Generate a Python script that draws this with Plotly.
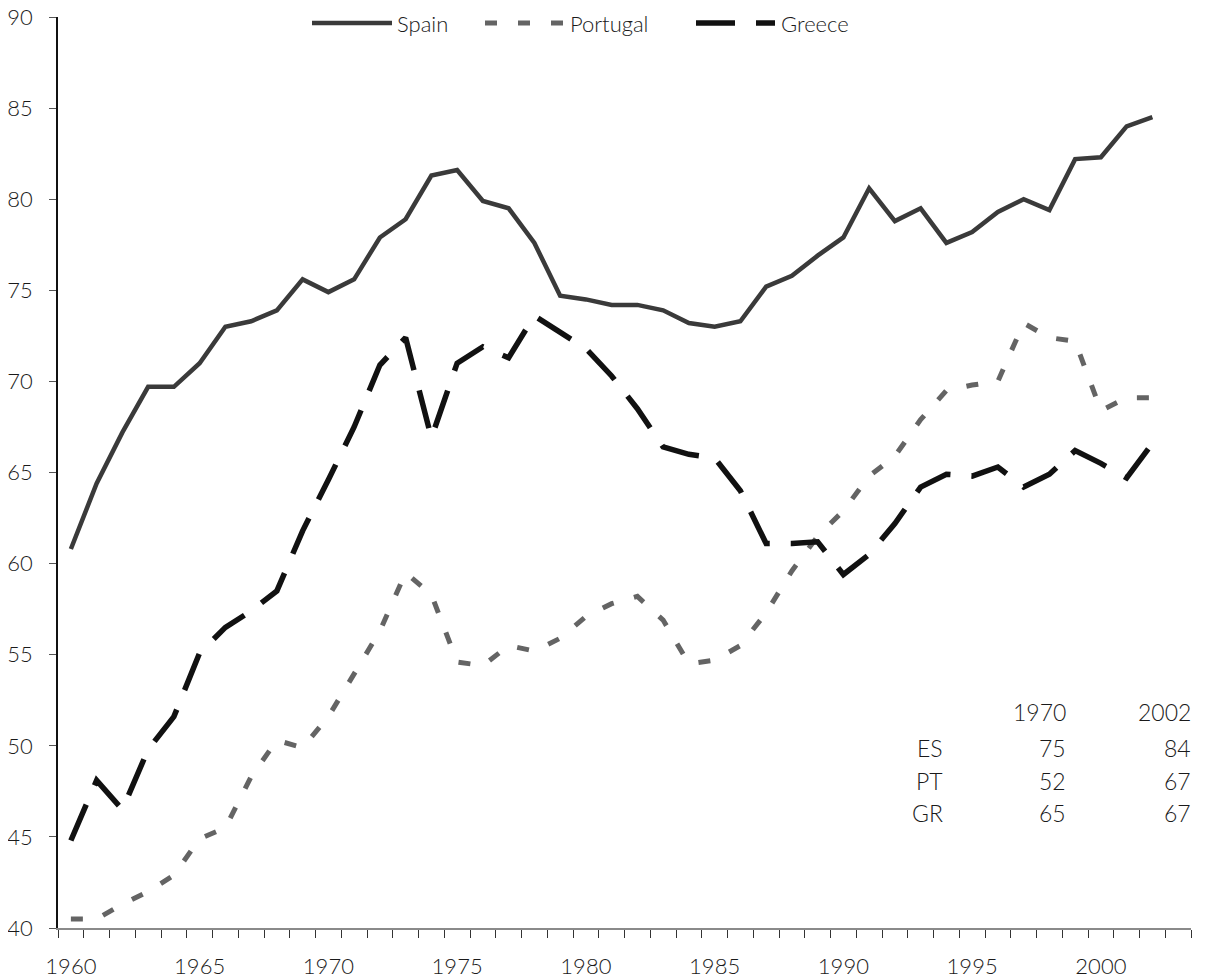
import plotly.graph_objects as go

years = list(range(1960, 2003))

spain = [60.8, 64.4, 67.2, 69.7, 69.7, 71.0, 73.0, 73.3, 73.9, 75.6,
         74.9, 75.6, 77.9, 78.9, 81.3, 81.6, 79.9, 79.5, 77.6, 74.7,
         74.5, 74.2, 74.2, 73.9, 73.2, 73.0, 73.3, 75.2, 75.8, 76.9,
         77.9, 80.6, 78.8, 79.5, 77.6, 78.2, 79.3, 80.0, 79.4, 82.2,
         82.3, 84.0, 84.5]

portugal = [40.5, 40.5, 41.3, 42.0, 42.9, 44.9, 45.5, 48.3, 50.3, 49.9,
            51.6, 53.9, 56.3, 59.5, 58.3, 54.6, 54.4, 55.5, 55.2, 55.9,
            57.1, 57.8, 58.2, 56.9, 54.5, 54.7, 55.5, 57.3, 59.6, 61.5,
            62.9, 64.8, 65.9, 67.9, 69.5, 69.8, 70.0, 73.2, 72.4, 72.2,
            68.4, 69.1, 69.1]

greece = [44.8, 48.1, 46.5, 49.8, 51.6, 55.1, 56.5, 57.4, 58.5, 61.8,
          64.6, 67.5, 70.9, 72.4, 66.9, 71.0, 71.9, 71.3, 73.6, 72.7,
          71.8, 70.3, 68.5, 66.4, 66.0, 65.8, 64.0, 61.1, 61.1, 61.2,
          59.4, 60.5, 62.2, 64.2, 64.9, 64.8, 65.3, 64.2, 64.9, 66.2,
          65.5, 64.7, 66.6]

table_cols = ["1970", "2002"]
table_rows = ["ES", "PT", "GR"]
table_vals = [[75, 84], [52, 67], [65, 67]]

FONT = "Lato, 'Open Sans', sans-serif"
# page body has an 8px margin, so the figure is sized to fit inside it
OFF = 8
W, H = 1197, 972
L, R, T, B = 50, 14, 9, 52


def px_x(p):
    # page pixel -> paper coordinate
    return (p - OFF - L) / (W - L - R)


def px_y(p):
    return (H - B - (p - OFF)) / (H - T - B)


series = [
    ("Spain", spain, "#3a3a3a", 4.5, "solid"),
    ("Portugal", portugal, "#646464", 5, "12px,21px"),
    ("Greece", greece, "#111111", 5.5, "39px,21px"),
]

fig = go.Figure()
for name, vals, color, width, dash in series:
    fig.add_trace(go.Scatter(
        x=years, y=vals, name=name, mode="lines",
        line=dict(color=color, width=width, dash=dash),
        showlegend=False,
    ))

# legend drawn by hand: sample line + label
legend_pos = [(312, 392, 395), (485, 563, 568), (696, 775, 779)]
for (name, vals, color, width, dash), (x0, x1, xt) in zip(series, legend_pos):
    fig.add_shape(type="line", xref="paper", yref="paper",
                  x0=px_x(x0), x1=px_x(x1), y0=px_y(23), y1=px_y(23),
                  line=dict(color=color, width=width, dash=dash))
    fig.add_annotation(text=name, xref="paper", yref="paper",
                       x=px_x(xt), y=px_y(23), xanchor="left", yanchor="middle",
                       showarrow=False, font=dict(size=22, color="#1a1a1a"))

# small table in the lower right
col_right = [1068, 1193]
row_y = [748, 781, 813]
for j, c in enumerate(table_cols):
    fig.add_annotation(text=c, xref="paper", yref="paper",
                       x=px_x(col_right[j]), y=px_y(712), xanchor="right",
                       yanchor="middle", showarrow=False,
                       font=dict(size=23, color="#1a1a1a"))
for i, r in enumerate(table_rows):
    fig.add_annotation(text=r, xref="paper", yref="paper",
                       x=px_x(945), y=px_y(row_y[i]), xanchor="right",
                       yanchor="middle", showarrow=False,
                       font=dict(size=23, color="#1a1a1a"))
    for j, v in enumerate(table_vals[i]):
        fig.add_annotation(text=str(v), xref="paper", yref="paper",
                           x=px_x(col_right[j]), y=px_y(row_y[i]), xanchor="right",
                           yanchor="middle", showarrow=False,
                           font=dict(size=23, color="#1a1a1a"))

fig.update_layout(
    width=W, height=H,
    margin=dict(l=L, r=R, t=T, b=B, autoexpand=False),
    paper_bgcolor="white", plot_bgcolor="white",
    font=dict(family=FONT, size=22, color="#1a1a1a", weight=300),
    xaxis=dict(
        range=[1959.5, 2003.5], tickmode="linear", tick0=1960, dtick=5,
        ticks="", showgrid=False, zeroline=False, automargin=False,
        showline=True, linecolor="#8a8a8a", linewidth=1.5,
        ticklabelstandoff=18, ticklabeloverflow="allow",
        minor=dict(ticks="outside", tick0=1959.5, dtick=1, ticklen=8,
                   tickcolor="#333", tickwidth=1, showgrid=False),
    ),
    yaxis=dict(
        range=[40, 90], tickmode="linear", tick0=40, dtick=5,
        ticks="outside", ticklen=7, tickcolor="#555", tickwidth=1,
        showgrid=False, zeroline=False, automargin=False,
        showline=True, linecolor="#111", linewidth=1.5,
        ticklabelstandoff=12, ticklabeloverflow="allow",
    ),
)

fig.write_html("out.html")
